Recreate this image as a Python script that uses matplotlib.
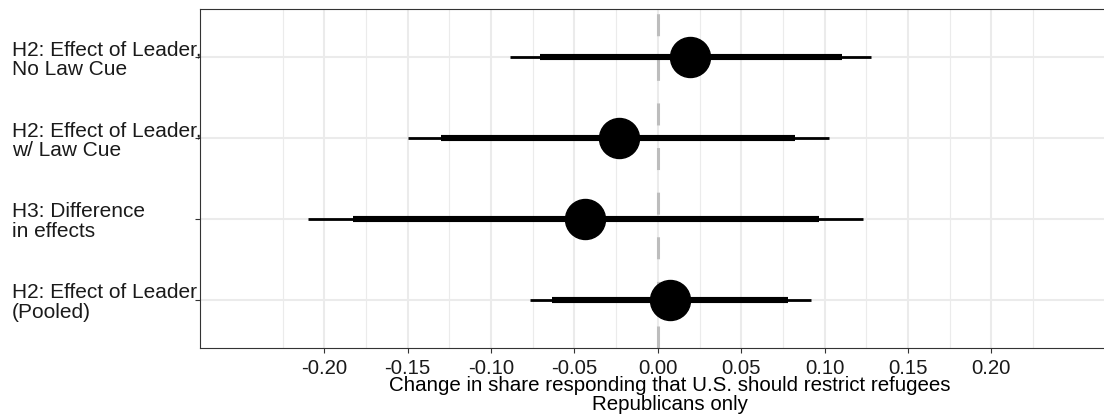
import matplotlib
matplotlib.use("Agg")
import matplotlib.pyplot as plt
import matplotlib.ticker as ticker
import numpy as np

plt.rcParams['font.family'] = ['Liberation Sans', 'DejaVu Sans']

# estimates and intervals, top row first
labels = ["H2: Effect of Leader,\nNo Law Cue",
          "H2: Effect of Leader,\nw/ Law Cue",
          "H3: Difference\nin effects",
          "H2: Effect of Leader\n(Pooled)"]
estimate = [0.0195, -0.0235, -0.0435, 0.0075]
ci90_lo = [-0.0709, -0.1300, -0.1830, -0.0633]
ci90_hi = [0.1107, 0.0825, 0.0966, 0.0783]
ci95_lo = [-0.0885, -0.1500, -0.2100, -0.0768]
ci95_hi = [0.1281, 0.1029, 0.1233, 0.0920]
major_breaks = [-0.20, -0.15, -0.10, -0.05, 0.00, 0.05, 0.10, 0.15, 0.20]

xlabel = "Change in share responding that U.S. should restrict refugees\nRepublicans only"

fig = plt.figure(figsize=(11.04, 4.16), dpi=100)
ax = fig.add_axes([0.1816, 0.1623, 0.85, 0.8161])

y = np.arange(len(labels))

# zero reference line
ax.axvline(0, color='#bdbdbd', lw=2.2, dashes=(7.2, 7.4), zorder=2)

# 95% (thin) and 90% (thick) intervals, then the point estimate
ax.hlines(y, ci95_lo, ci95_hi, color='black', lw=2.0, zorder=3)
ax.hlines(y, ci90_lo, ci90_hi, color='black', lw=4.4, zorder=4)
ax.plot(estimate, y, 'o', color='black', ms=28.8, zorder=5)

ax.set_xlim(-0.2743, 0.2885)
ax.set_ylim(len(labels) - 0.4, -0.6)

ax.xaxis.set_major_locator(ticker.FixedLocator(major_breaks))
ax.xaxis.set_minor_locator(ticker.FixedLocator(np.arange(-0.275, 0.30, 0.05)))
ax.xaxis.set_major_formatter(ticker.FormatStrFormatter('%0.2f'))
ax.set_yticks(y)
ax.set_yticklabels(labels, ha='left', linespacing=1.05)

ax.grid(which='major', color='#ebebeb', lw=1.5, zorder=0)
ax.grid(which='minor', axis='x', color='#ebebeb', lw=0.8, zorder=0)
ax.set_axisbelow(True)

for side in ['left', 'right', 'top', 'bottom']:
    ax.spines[side].set_color('#333333')
    ax.spines[side].set_linewidth(0.8)

ax.tick_params(axis='x', which='major', length=3.6, width=0.8, color='#333333',
               labelsize=14.7, labelcolor='#1a1a1a', pad=4)
ax.tick_params(axis='x', which='minor', length=0)
ax.tick_params(axis='y', length=3.6, width=0.8, color='#333333',
               labelsize=15, labelcolor='#1a1a1a', pad=132)

ax.set_xlabel(xlabel, fontsize=14.8, color='black', linespacing=1.0, labelpad=-1.5)

fig.savefig('out.png', dpi=100)
